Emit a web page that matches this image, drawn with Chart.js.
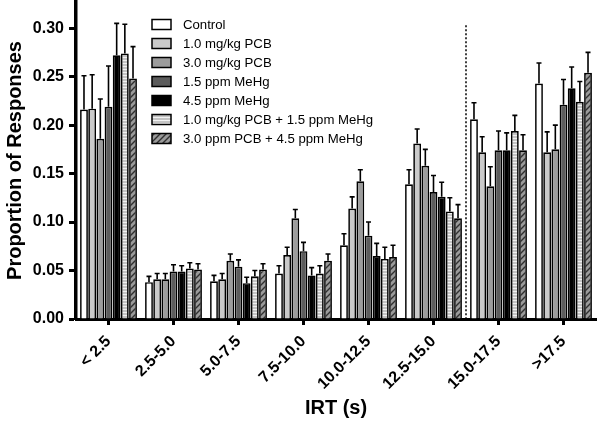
<!DOCTYPE html>
<html>
<head>
<meta charset="utf-8">
<script src="https://cdn.jsdelivr.net/npm/chart.js@4.4.1/dist/chart.umd.min.js"></script>
<style>
  html, body { margin: 0; padding: 0; background: #fff; }
  #wrap { width: 600px; height: 423px; }
</style>
</head>
<body>
<div id="wrap"><canvas id="chart" width="600" height="423"></canvas></div>
<script>
const categories = ["< 2.5", "2.5-5.0", "5.0-7.5", "7.5-10.0", "10.0-12.5", "12.5-15.0", "15.0-17.5", ">17.5"];
const seriesNames = ["Control", "1.0 mg/kg PCB", "3.0 mg/kg PCB", "1.5 ppm MeHg", "4.5 ppm MeHg",
                     "1.0 mg/kg PCB + 1.5 ppm MeHg", "3.0 ppm PCB + 4.5 ppm MeHg"];

// mean proportion of responses per IRT bin
const control  = [0.216, 0.038, 0.039, 0.047, 0.076, 0.139, 0.206, 0.243];
const pcb10    = [0.217, 0.041, 0.041, 0.066, 0.114, 0.181, 0.172, 0.172];
const pcb30    = [0.186, 0.041, 0.060, 0.104, 0.142, 0.158, 0.137, 0.175];
const mehg15   = [0.219, 0.049, 0.054, 0.070, 0.086, 0.131, 0.174, 0.221];
const mehg45   = [0.272, 0.049, 0.037, 0.045, 0.065, 0.126, 0.174, 0.238];
const combo1   = [0.274, 0.052, 0.044, 0.047, 0.062, 0.111, 0.194, 0.224];
const combo2   = [0.248, 0.051, 0.051, 0.060, 0.064, 0.104, 0.174, 0.254];

// SEM (upper error bar only)
const controlErr = [0.035, 0.006, 0.006, 0.008, 0.012, 0.015, 0.017, 0.021];
const pcb10Err   = [0.035, 0.006, 0.006, 0.008, 0.012, 0.015, 0.016, 0.021];
const pcb30Err   = [0.041, 0.006, 0.007, 0.009, 0.012, 0.017, 0.020, 0.025];
const mehg15Err  = [0.042, 0.007, 0.007, 0.009, 0.014, 0.017, 0.020, 0.026];
const mehg45Err  = [0.033, 0.006, 0.006, 0.008, 0.013, 0.015, 0.018, 0.022];
const combo1Err  = [0.030, 0.006, 0.006, 0.008, 0.012, 0.014, 0.016, 0.021];
const combo2Err  = [0.033, 0.006, 0.006, 0.007, 0.012, 0.014, 0.016, 0.021];

const yTicks = [0, 0.05, 0.10, 0.15, 0.20, 0.25, 0.30];

const canvas = document.getElementById("chart");
const ctx = canvas.getContext("2d");

function hStripes() {
    const c = document.createElement("canvas");
    c.width = 4; c.height = 3;
    const g = c.getContext("2d");
    g.fillStyle = "#c4c4c4"; g.fillRect(0, 0, 4, 3);
    g.fillStyle = "#f2f2f2"; g.fillRect(0, 0, 4, 1);
    return ctx.createPattern(c, "repeat");
}

function diagHatch() {
    const c = document.createElement("canvas");
    c.width = 6; c.height = 6;
    const g = c.getContext("2d");
    g.fillStyle = "#9a9a9a"; g.fillRect(0, 0, 6, 6);
    g.strokeStyle = "#303030"; g.lineWidth = 1.4;
    g.beginPath();
    g.moveTo(0, 6); g.lineTo(6, 0);
    g.moveTo(-1, 1); g.lineTo(1, -1);
    g.moveTo(5, 7); g.lineTo(7, 5);
    g.stroke();
    return ctx.createPattern(c, "repeat");
}

const fills = ["#ffffff", "#cacaca", "#9c9c9c", "#5c5c5c", "#000000", hStripes(), diagHatch()];
const values = [control, pcb10, pcb30, mehg15, mehg45, combo1, combo2];
const errors = [controlErr, pcb10Err, pcb30Err, mehg15Err, mehg45Err, combo1Err, combo2Err];

const errorBars = {
    id: "errorBars",
    afterDatasetsDraw(chart) {
        const c = chart.ctx, y = chart.scales.y;
        c.save();
        c.strokeStyle = "#000";
        c.lineWidth = 1.6;
        chart.data.datasets.forEach((ds, i) => {
            chart.getDatasetMeta(i).data.forEach((bar, j) => {
                const top = y.getPixelForValue(ds.data[j] + ds.err[j]);
                c.beginPath();
                c.moveTo(bar.x, bar.y);
                c.lineTo(bar.x, top);
                c.moveTo(bar.x - 2.5, top);
                c.lineTo(bar.x + 2.5, top);
                c.stroke();
            });
        });
        c.restore();
    }
};

// dotted separator between 12.5-15.0 and 15.0-17.5
const divider = {
    id: "divider",
    afterDatasetsDraw(chart) {
        const c = chart.ctx, x = chart.scales.x, y = chart.scales.y;
        const px = (x.getPixelForValue(5) + x.getPixelForValue(6)) / 2;
        c.save();
        c.strokeStyle = "#000";
        c.lineWidth = 1.5;
        c.setLineDash([2, 2]);
        c.beginPath();
        c.moveTo(px, y.getPixelForValue(0.303));
        c.lineTo(px, y.getPixelForValue(0));
        c.stroke();
        c.restore();
    }
};

const boxLegend = {
    id: "boxLegend",
    afterDraw(chart) {
        const c = chart.ctx;
        c.save();
        c.font = "13.2px 'Liberation Sans', Arial, sans-serif";
        c.textBaseline = "middle";
        chart.data.datasets.forEach((ds, i) => {
            const cy = 24.5 + i * 19;
            c.fillStyle = ds.backgroundColor;
            c.fillRect(152, cy - 5, 19, 10);
            c.strokeStyle = "#000";
            c.lineWidth = 1.5;
            c.strokeRect(152, cy - 5, 19, 10);
            c.fillStyle = "#000";
            c.fillText(ds.label, 183, cy + 0.5);
        });
        c.restore();
    }
};

new Chart(canvas, {
    type: "bar",
    data: {
        labels: categories,
        datasets: seriesNames.map((name, i) => ({
            label: name,
            data: values[i],
            err: errors[i],
            backgroundColor: fills[i],
            borderColor: "#000",
            borderWidth: 1.7,
            categoryPercentage: 0.88,
            barPercentage: 0.96
        }))
    },
    options: {
        responsive: false,
        animation: false,
        layout: { padding: { top: 2, right: 4, left: 0, bottom: 0 } },
        plugins: {
            legend: { display: false },
            tooltip: { enabled: false }
        },
        scales: {
            x: {
                afterFit: s => { s.height = 104; },
                border: { color: "#000", width: 3 },
                grid: { offset: false, drawOnChartArea: false, color: "#000", tickLength: 6, tickWidth: 3 },
                ticks: {
                    color: "#000", minRotation: 45, maxRotation: 45, padding: 7,
                    font: { family: "'Liberation Sans', Arial, sans-serif", size: 16, weight: "bold" }
                },
                title: {
                    display: true, text: "IRT (s)", color: "#000",
                    padding: { top: 0, bottom: 3 },
                    font: { family: "'Liberation Sans', Arial, sans-serif", size: 20, weight: "bold" }
                }
            },
            y: {
                min: 0,
                max: 0.327,
                afterFit: s => { s.width = 76; s.paddingTop = 0; s.paddingBottom = 0; },
                afterBuildTicks: s => { s.ticks = yTicks.map(v => ({ value: v })); },
                border: { color: "#000", width: 3.5 },
                grid: { drawOnChartArea: false, color: "#000", tickLength: 7, tickWidth: 3 },
                ticks: {
                    color: "#000", padding: 5,
                    callback: v => v.toFixed(2),
                    font: { family: "'Liberation Sans', Arial, sans-serif", size: 16, weight: "bold" }
                },
                title: {
                    display: true, text: "Proportion of Responses", color: "#000",
                    padding: { top: 3, bottom: 0 },
                    font: { family: "'Liberation Sans', Arial, sans-serif", size: 20, weight: "bold" }
                }
            }
        }
    },
    plugins: [errorBars, divider, boxLegend]
});
</script>
</body>
</html>
